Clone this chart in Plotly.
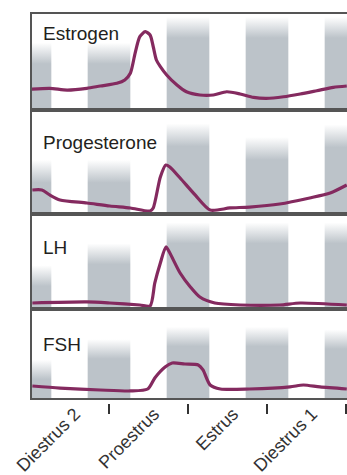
import plotly.graph_objects as go

# ---- data (x in days; 0 = first tick "Diestrus 2" boundary) ----
stage_labels = ["Diestrus 2", "Proestrus", "Estrus", "Diestrus 1"]
stage_bounds = [0, 1, 2, 3, 4]
night_centers = [0, 1, 2, 3, 4]

estrogen_x = [0.02, 0.25, 0.47, 0.72, 0.89, 1.10, 1.20, 1.27, 1.33, 1.39, 1.46, 1.52, 1.56, 1.60,
              1.65, 1.73, 1.86, 1.98, 2.15, 2.32, 2.49, 2.66, 2.83, 2.99, 3.21, 3.42, 3.63, 3.84, 4.01]
estrogen_y = [21.6, 22.6, 20.8, 22.6, 25.0, 27.8, 31.3, 38.2, 59.0, 76.4, 81.6, 78.1, 65.9, 52.1,
              45.1, 36.5, 26.0, 19.0, 15.6, 15.6, 19.0, 16.7, 13.2, 12.2, 13.8, 16.7, 20.1, 23.6, 25.0]

prog_x = [0.03, 0.15, 0.25, 0.38, 0.72, 1.01, 1.27, 1.52, 1.56, 1.65, 1.72, 1.77, 1.90, 2.09,
          2.28, 2.53, 2.78, 3.16, 3.54, 3.80, 4.01]
prog_y = [23.1, 23.1, 18.3, 13.5, 10.6, 7.7, 5.8, 2.9, 5.8, 35.6, 47.1, 45.2, 34.6, 18.3,
          3.8, 5.8, 6.7, 9.6, 15.4, 20.2, 27.9]

lh_x = [0.03, 0.72, 1.01, 1.39, 1.52, 1.58, 1.65, 1.72, 1.77, 1.90, 2.03, 2.15, 2.34, 2.66,
        3.16, 3.42, 4.01]
lh_y = [6.3, 7.4, 6.3, 4.2, 3.2, 27.4, 48.4, 65.3, 58.9, 37.9, 23.2, 12.6, 6.3, 4.2,
        4.2, 6.3, 4.2]

fsh_x = [0.03, 0.38, 0.89, 1.27, 1.49, 1.58, 1.71, 1.80, 1.96, 2.13, 2.19, 2.28, 2.41, 2.78,
         3.29, 3.46, 3.67, 4.01]
fsh_y = [13.5, 11.2, 9.0, 7.9, 10.1, 22.5, 34.8, 39.3, 38.2, 37.1, 31.5, 14.6, 10.1, 10.1,
         12.4, 14.6, 12.4, 10.1]

panel_names = ["Estrogen", "Progesterone", "LH", "FSH"]
panel_x = [estrogen_x, prog_x, lh_x, fsh_x]
panel_y = [estrogen_y, prog_y, lh_y, fsh_y]
# top of the dark (night) shading per panel, % of panel height
band_tops = [
    [70, 70, 97, 97, 97],
    [52, 52, 87, 74, 86],
    [46, 69, 91, 91, 91],
    [43, 66, 80, 80, 77],
]

# ---- styling ----
W, H = 347, 475
top_px, bot_px = 14, 403
panel_edges_px = [14, 110, 214, 309, 398]
LINE = "#842a5f"
GRAY = "#bcc3c9"
FRAME = "#555555"
XR = [(32 - 30) / 79, (347 - 30) / 79]
half_w = 0.27
grad = 22

def frac(ypx):
    return (bot_px - ypx) / (bot_px - top_px)

fig = go.Figure()
layout = dict(
    width=W, height=H,
    margin=dict(l=32, r=0, t=top_px, b=H - bot_px, pad=0, autoexpand=False),
    paper_bgcolor="white", plot_bgcolor="white",
    showlegend=False,
    font=dict(family="Liberation Sans, Arial, sans-serif", color="#231f20"),
)

for i in range(4):
    n = i + 1
    xa, ya = f"x{n}", f"y{n}"
    # shaded night bands
    for c, tp in zip(night_centers, band_tops[i]):
        x0, x1 = c - half_w, c + half_w
        fig.add_trace(go.Scatter(
            x=[x0, x1, x1, x0, x0], y=[0, 0, tp, tp, 0],
            mode="lines", line=dict(width=0), fill="toself",
            fillgradient=dict(type="vertical", start=tp - grad, stop=tp,
                              colorscale=[[0, GRAY], [1, "rgba(255,255,255,1)"]]),
            hoverinfo="skip", xaxis=xa, yaxis=ya,
        ))
    fig.add_trace(go.Scatter(
        x=panel_x[i], y=panel_y[i], mode="lines",
        line=dict(color=LINE, width=3.2, shape="spline", smoothing=0.7),
        xaxis=xa, yaxis=ya, hoverinfo="skip",
    ))
    d0 = frac(panel_edges_px[i + 1])
    d1 = frac(panel_edges_px[i])
    layout[f"xaxis{n}" if n > 1 else "xaxis"] = dict(
        domain=[0, 1], anchor=ya, range=XR, showgrid=False, zeroline=False,
        showticklabels=False, ticks="", showline=True, mirror=True,
        linecolor=FRAME, linewidth=1.6, fixedrange=True, automargin=False,
    )
    layout[f"yaxis{n}" if n > 1 else "yaxis"] = dict(
        domain=[d0, d1], anchor=xa, range=[0, 100], showgrid=False, zeroline=False,
        showticklabels=False, ticks="", showline=True, mirror=False,
        linecolor=FRAME, linewidth=1.6, fixedrange=True, automargin=False,
    )

# bottom tick axis (ticks at stage boundaries, labels between)
fig.add_trace(go.Scatter(x=[None], y=[None], xaxis="x5", yaxis="y4", hoverinfo="skip"))
mids = [(a + b) / 2 + 0.07 for a, b in zip(stage_bounds[:-1], stage_bounds[1:])]
layout["xaxis5"] = dict(
    overlaying="x4", anchor="free", position=0, range=XR,
    showgrid=False, zeroline=False, showline=False, automargin=False,
    tickmode="array", tickvals=mids, ticktext=stage_labels,
    tickangle=-45, ticks="", tickfont=dict(size=18, color="#333333"),
    ticklabelstandoff=-4,
    minor=dict(tickmode="array", tickvals=stage_bounds, ticks="outside",
               ticklen=10, tickwidth=1.5, tickcolor="#333333"),
    fixedrange=True,
)

label_y_px = [33, 142, 248, 344]
annotations = []
for name, ypx in zip(panel_names, label_y_px):
    annotations.append(dict(
        text=name, xref="paper", yref="paper", x=(41 - 32) / 315, y=frac(ypx),
        xanchor="left", yanchor="middle", showarrow=False,
        font=dict(size=19, color="#231f20"),
    ))
layout["annotations"] = annotations
fig.update_layout(**layout)
fig.write_html(
    "out.html",
    config={"displayModeBar": False, "staticPlot": True},
    post_script="document.body.style.margin='0';document.body.style.overflow='hidden';",
)
